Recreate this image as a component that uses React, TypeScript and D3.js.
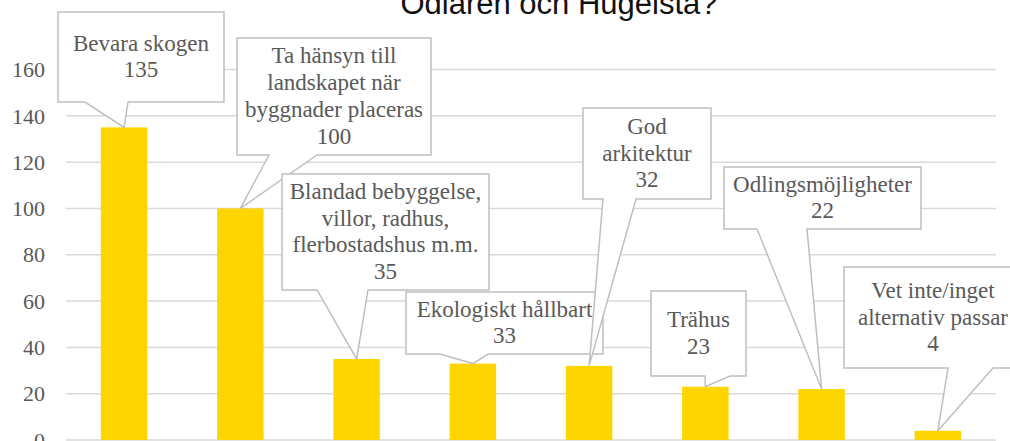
import React from "react";
import * as d3 from "d3";

const categories = [
  "Bevara skogen",
  "Ta hänsyn till landskapet när byggnader placeras",
  "Blandad bebyggelse, villor, radhus, flerbostadshus m.m.",
  "Ekologiskt hållbart",
  "God arkitektur",
  "Trähus",
  "Odlingsmöjligheter",
  "Vet inte/inget alternativ passar",
];
const labelLines = [
  ["Bevara skogen"],
  ["Ta hänsyn till", "landskapet när", "byggnader placeras"],
  ["Blandad bebyggelse,", "villor, radhus,", "flerbostadshus m.m."],
  ["Ekologiskt hållbart"],
  ["God", "arkitektur"],
  ["Trähus"],
  ["Odlingsmöjligheter"],
  ["Vet inte/inget", "alternativ passar"],
];
const values = [135, 100, 35, 33, 32, 23, 22, 4];
const yTicks = [0, 20, 40, 60, 80, 100, 120, 140, 160];
const title = "Odlaren och Hugelsta?";

// callout box layout (x0, y0, x1, y1, pointer base b0..b1 on bottom edge)
const calloutLayout = [
  [58, 12, 224, 102, 85, 128],
  [237, 38, 431, 155, 269, 317],
  [282, 174, 489, 290, 317, 368],
  [406, 292, 603, 354, 440, 488],
  [583, 108, 711, 199, 603, 636],
  [651, 291, 746, 376, 705, 730],
  [724, 167, 921, 229, 757, 807],
  [844, 267, 1022, 368, 948, 993],
];

const W = 1010;
const H = 441;
const serif = "Liberation Serif, DejaVu Serif, serif";

export default function App() {
  const x = d3.scaleBand<string>().domain(categories).range([66, 996]).paddingInner(0.6).paddingOuter(0.3);
  const y = d3.scaleLinear().domain([0, 160]).range([440, 69.5]);
  const lh = 26.7;

  return (
    <svg width={W} height={H} style={{ position: "absolute", left: 0, top: 0, background: "#fff" }}>
      <text x={559} y={14} textAnchor="middle" style={{ fontFamily: "Liberation Sans, Arial, sans-serif" }} fontSize={31} fill="#111">
        {title}
      </text>
      {yTicks.map((t) => (
        <g key={t}>
          <line x1={66} x2={996} y1={y(t)} y2={y(t)} stroke="#d9d9d9" strokeWidth={1.5} />
          <text x={45} y={y(t)} dy="0.35em" textAnchor="end" style={{ fontFamily: serif }} fontSize={22} fill="#595959">
            {t}
          </text>
        </g>
      ))}
      {categories.map((c, i) => (
        <rect key={c} x={x(c)} y={y(values[i])} width={x.bandwidth()} height={y(0) - y(values[i])} fill="#FFD500" />
      ))}
      {categories.map((c, i) => {
        const [x0, y0, x1, y1, b0, b1] = calloutLayout[i];
        const tx = (x(c) as number) + x.bandwidth() / 2;
        const ty = y(values[i]);
        const d = `M${x0},${y0}L${x1},${y0}L${x1},${y1}L${b1},${y1}L${tx},${ty}L${b0},${y1}L${x0},${y1}Z`;
        const lines = [...labelLines[i], String(values[i])];
        const cx = (x0 + x1) / 2;
        const cy = (y0 + y1) / 2;
        const first = cy - ((lines.length - 1) / 2) * lh + 7;
        return (
          <g key={"c" + c}>
            <path d={d} fill="#fff" stroke="#bfbfbf" strokeWidth={1.5} />
            <text textAnchor="middle" style={{ fontFamily: serif }} fontSize={23} fill="#595959">
              {lines.map((l, j) => (
                <tspan key={j} x={cx} y={first + j * lh}>
                  {l}
                </tspan>
              ))}
            </text>
          </g>
        );
      })}
    </svg>
  );
}
